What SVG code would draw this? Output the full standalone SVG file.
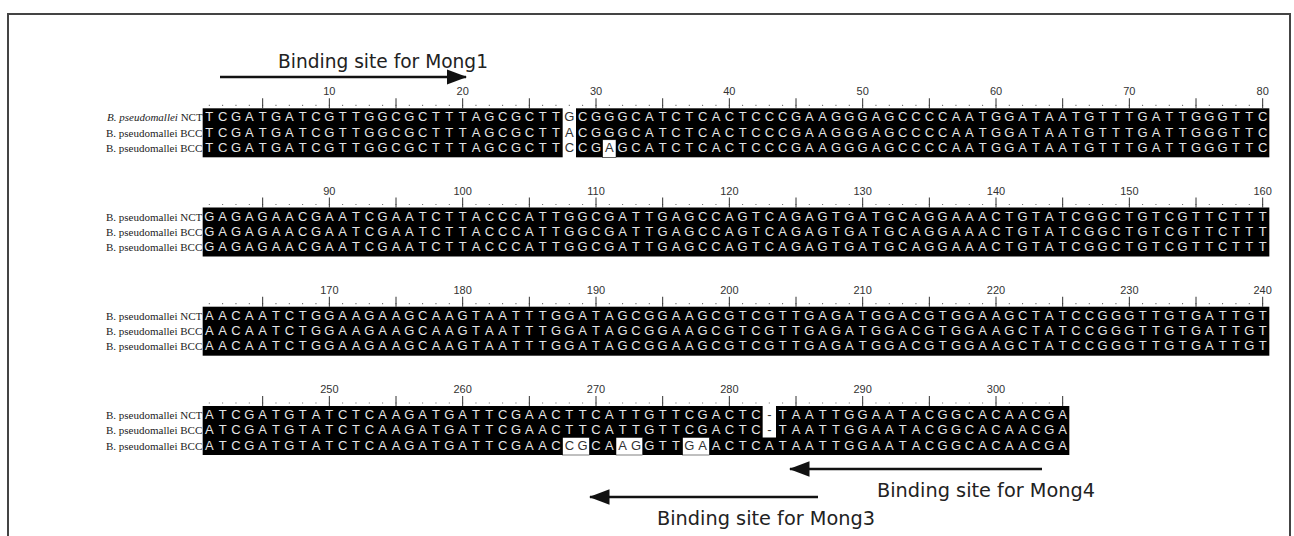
<svg xmlns="http://www.w3.org/2000/svg" width="1294" height="536" viewBox="0 0 1294 536">
<style>
.seq{font-family:"Liberation Sans",Arial,sans-serif;font-size:13px;fill:#e6e6e6;text-anchor:middle}
.d{fill:#333}
.lab{font-family:"Liberation Serif","Times New Roman",serif;font-size:11px;fill:#222}
.num{font-family:"Liberation Sans",Arial,sans-serif;font-size:11px;fill:#333;text-anchor:middle}
.dots{stroke:#666;stroke-width:1.2;stroke-dasharray:1 12.333}
.ticks{stroke:#333;stroke-width:10;stroke-dasharray:1 65.667}
.bind{font-family:"DejaVu Sans",Verdana,sans-serif;font-size:20px;fill:#222}
.arr{stroke:#111;stroke-width:2.6;fill:none}
</style>
<defs>
<marker id="ah" markerWidth="8" markerHeight="6" refX="7.5" refY="3" orient="auto" markerUnits="strokeWidth">
<path d="M0,0 L8,3 L0,6 Z" fill="#111"/>
</marker>
</defs>
<rect width="1294" height="536" fill="#fff"/>
<path d="M8,536 V14 H1290 V536" fill="none" stroke="#444" stroke-width="2"/>

<!-- Block 1 -->
<g id="block1" transform="translate(0,108.3)">
<text class="num" y="-13"><tspan x="329.33">10</tspan><tspan x="462.67">20</tspan><tspan x="596">30</tspan><tspan x="729.33">40</tspan><tspan x="862.67">50</tspan><tspan x="996">60</tspan><tspan x="1129.33">70</tspan><tspan x="1262.67">80</tspan></text>
<line class="dots" x1="208.8" y1="-3" x2="1264" y2="-3"/>
<line class="ticks" x1="262.17" y1="-5" x2="1264" y2="-5"/>
<text class="lab" x="107" y="13"><tspan font-style="italic">B. pseudomallei</tspan> NCT</text>
<text class="lab" x="106" y="28.3">B. pseudomallei BCC</text>
<text class="lab" x="106" y="43.6">B. pseudomallei BCC</text>
<rect x="202.67" y="0" width="360" height="49" fill="#000"/>
<rect x="576" y="0" width="693.33" height="49" fill="#000"/>
<rect x="602.67" y="31.5" width="13.33" height="17.5" fill="#fff" stroke="#000" stroke-width="0.5"/>
<g transform="translate(202.67,0)">
<text class="seq" y="13.2" x="6.67 20 33.33 46.67 60 73.33 86.67 100 113.33 126.67 140 153.33 166.67 180 193.33 206.67 220 233.33 246.67 260 273.33 286.67 300 313.33 326.67 340 353.33 366.67 380 393.33 406.67 420 433.33 446.67 460 473.33 486.67 500 513.33 526.67 540 553.33 566.67 580 593.33 606.67 620 633.33 646.67 660 673.33 686.67 700 713.33 726.67 740 753.33 766.67 780 793.33 806.67 820 833.33 846.67 860 873.33 886.67 900 913.33 926.67 940 953.33 966.67 980 993.33 1006.67 1020 1033.33 1046.67 1060">TCGATGATCGTTGGCGCTTTAGCGCTT<tspan class="d">G</tspan>CGGGCATCTCACTCCCGAAGGGAGCCCCAATGGATAATGTTTGATTGGGTTC</text>
<text class="seq" y="28.4" x="6.67 20 33.33 46.67 60 73.33 86.67 100 113.33 126.67 140 153.33 166.67 180 193.33 206.67 220 233.33 246.67 260 273.33 286.67 300 313.33 326.67 340 353.33 366.67 380 393.33 406.67 420 433.33 446.67 460 473.33 486.67 500 513.33 526.67 540 553.33 566.67 580 593.33 606.67 620 633.33 646.67 660 673.33 686.67 700 713.33 726.67 740 753.33 766.67 780 793.33 806.67 820 833.33 846.67 860 873.33 886.67 900 913.33 926.67 940 953.33 966.67 980 993.33 1006.67 1020 1033.33 1046.67 1060">TCGATGATCGTTGGCGCTTTAGCGCTT<tspan class="d">A</tspan>CGGGCATCTCACTCCCGAAGGGAGCCCCAATGGATAATGTTTGATTGGGTTC</text>
<text class="seq" y="43.7" x="6.67 20 33.33 46.67 60 73.33 86.67 100 113.33 126.67 140 153.33 166.67 180 193.33 206.67 220 233.33 246.67 260 273.33 286.67 300 313.33 326.67 340 353.33 366.67 380 393.33 406.67 420 433.33 446.67 460 473.33 486.67 500 513.33 526.67 540 553.33 566.67 580 593.33 606.67 620 633.33 646.67 660 673.33 686.67 700 713.33 726.67 740 753.33 766.67 780 793.33 806.67 820 833.33 846.67 860 873.33 886.67 900 913.33 926.67 940 953.33 966.67 980 993.33 1006.67 1020 1033.33 1046.67 1060">TCGATGATCGTTGGCGCTTTAGCGCTT<tspan class="d">C</tspan>CG<tspan class="d">A</tspan>GCATCTCACTCCCGAAGGGAGCCCCAATGGATAATGTTTGATTGGGTTC</text>
</g>
</g>

<!-- Block 2 -->
<g id="block2" transform="translate(0,207.5)">
<text class="num" y="-13"><tspan x="329.33">90</tspan><tspan x="462.67">100</tspan><tspan x="596">110</tspan><tspan x="729.33">120</tspan><tspan x="862.67">130</tspan><tspan x="996">140</tspan><tspan x="1129.33">150</tspan><tspan x="1262.67">160</tspan></text>
<line class="dots" x1="208.8" y1="-3" x2="1264" y2="-3"/>
<line class="ticks" x1="262.17" y1="-5" x2="1264" y2="-5"/>
<text class="lab" x="106" y="13">B. pseudomallei NCT</text>
<text class="lab" x="106" y="28.3">B. pseudomallei BCC</text>
<text class="lab" x="106" y="43.6">B. pseudomallei BCC</text>
<rect x="202.67" y="0" width="1066.67" height="49" fill="#000"/>
<g transform="translate(202.67,0)">
<text class="seq" y="13.2" x="6.67 20 33.33 46.67 60 73.33 86.67 100 113.33 126.67 140 153.33 166.67 180 193.33 206.67 220 233.33 246.67 260 273.33 286.67 300 313.33 326.67 340 353.33 366.67 380 393.33 406.67 420 433.33 446.67 460 473.33 486.67 500 513.33 526.67 540 553.33 566.67 580 593.33 606.67 620 633.33 646.67 660 673.33 686.67 700 713.33 726.67 740 753.33 766.67 780 793.33 806.67 820 833.33 846.67 860 873.33 886.67 900 913.33 926.67 940 953.33 966.67 980 993.33 1006.67 1020 1033.33 1046.67 1060">GAGAGAACGAATCGAATCTTACCCATTGGCGATTGAGCCAGTCAGAGTGATGCAGGAAACTGTATCGGCTGTCGTTCTTT</text>
<text class="seq" y="28.4" x="6.67 20 33.33 46.67 60 73.33 86.67 100 113.33 126.67 140 153.33 166.67 180 193.33 206.67 220 233.33 246.67 260 273.33 286.67 300 313.33 326.67 340 353.33 366.67 380 393.33 406.67 420 433.33 446.67 460 473.33 486.67 500 513.33 526.67 540 553.33 566.67 580 593.33 606.67 620 633.33 646.67 660 673.33 686.67 700 713.33 726.67 740 753.33 766.67 780 793.33 806.67 820 833.33 846.67 860 873.33 886.67 900 913.33 926.67 940 953.33 966.67 980 993.33 1006.67 1020 1033.33 1046.67 1060">GAGAGAACGAATCGAATCTTACCCATTGGCGATTGAGCCAGTCAGAGTGATGCAGGAAACTGTATCGGCTGTCGTTCTTT</text>
<text class="seq" y="43.7" x="6.67 20 33.33 46.67 60 73.33 86.67 100 113.33 126.67 140 153.33 166.67 180 193.33 206.67 220 233.33 246.67 260 273.33 286.67 300 313.33 326.67 340 353.33 366.67 380 393.33 406.67 420 433.33 446.67 460 473.33 486.67 500 513.33 526.67 540 553.33 566.67 580 593.33 606.67 620 633.33 646.67 660 673.33 686.67 700 713.33 726.67 740 753.33 766.67 780 793.33 806.67 820 833.33 846.67 860 873.33 886.67 900 913.33 926.67 940 953.33 966.67 980 993.33 1006.67 1020 1033.33 1046.67 1060">GAGAGAACGAATCGAATCTTACCCATTGGCGATTGAGCCAGTCAGAGTGATGCAGGAAACTGTATCGGCTGTCGTTCTTT</text>
</g>
</g>

<!-- Block 3 -->
<g id="block3" transform="translate(0,306.7)">
<text class="num" y="-13"><tspan x="329.33">170</tspan><tspan x="462.67">180</tspan><tspan x="596">190</tspan><tspan x="729.33">200</tspan><tspan x="862.67">210</tspan><tspan x="996">220</tspan><tspan x="1129.33">230</tspan><tspan x="1262.67">240</tspan></text>
<line class="dots" x1="208.8" y1="-3" x2="1264" y2="-3"/>
<line class="ticks" x1="262.17" y1="-5" x2="1264" y2="-5"/>
<text class="lab" x="106" y="13">B. pseudomallei NCT</text>
<text class="lab" x="106" y="28.3">B. pseudomallei BCC</text>
<text class="lab" x="106" y="43.6">B. pseudomallei BCC</text>
<rect x="202.67" y="0" width="1066.67" height="49" fill="#000"/>
<g transform="translate(202.67,0)">
<text class="seq" y="13.2" x="6.67 20 33.33 46.67 60 73.33 86.67 100 113.33 126.67 140 153.33 166.67 180 193.33 206.67 220 233.33 246.67 260 273.33 286.67 300 313.33 326.67 340 353.33 366.67 380 393.33 406.67 420 433.33 446.67 460 473.33 486.67 500 513.33 526.67 540 553.33 566.67 580 593.33 606.67 620 633.33 646.67 660 673.33 686.67 700 713.33 726.67 740 753.33 766.67 780 793.33 806.67 820 833.33 846.67 860 873.33 886.67 900 913.33 926.67 940 953.33 966.67 980 993.33 1006.67 1020 1033.33 1046.67 1060">AACAATCTGGAAGAAGCAAGTAATTTGGATAGCGGAAGCGTCGTTGAGATGGACGTGGAAGCTATCCGGGTTGTGATTGT</text>
<text class="seq" y="28.4" x="6.67 20 33.33 46.67 60 73.33 86.67 100 113.33 126.67 140 153.33 166.67 180 193.33 206.67 220 233.33 246.67 260 273.33 286.67 300 313.33 326.67 340 353.33 366.67 380 393.33 406.67 420 433.33 446.67 460 473.33 486.67 500 513.33 526.67 540 553.33 566.67 580 593.33 606.67 620 633.33 646.67 660 673.33 686.67 700 713.33 726.67 740 753.33 766.67 780 793.33 806.67 820 833.33 846.67 860 873.33 886.67 900 913.33 926.67 940 953.33 966.67 980 993.33 1006.67 1020 1033.33 1046.67 1060">AACAATCTGGAAGAAGCAAGTAATTTGGATAGCGGAAGCGTCGTTGAGATGGACGTGGAAGCTATCCGGGTTGTGATTGT</text>
<text class="seq" y="43.7" x="6.67 20 33.33 46.67 60 73.33 86.67 100 113.33 126.67 140 153.33 166.67 180 193.33 206.67 220 233.33 246.67 260 273.33 286.67 300 313.33 326.67 340 353.33 366.67 380 393.33 406.67 420 433.33 446.67 460 473.33 486.67 500 513.33 526.67 540 553.33 566.67 580 593.33 606.67 620 633.33 646.67 660 673.33 686.67 700 713.33 726.67 740 753.33 766.67 780 793.33 806.67 820 833.33 846.67 860 873.33 886.67 900 913.33 926.67 940 953.33 966.67 980 993.33 1006.67 1020 1033.33 1046.67 1060">AACAATCTGGAAGAAGCAAGTAATTTGGATAGCGGAAGCGTCGTTGAGATGGACGTGGAAGCTATCCGGGTTGTGATTGT</text>
</g>
</g>

<!-- Block 4 -->
<g id="block4" transform="translate(0,406)">
<text class="num" y="-13"><tspan x="329.33">250</tspan><tspan x="462.67">260</tspan><tspan x="596">270</tspan><tspan x="729.33">280</tspan><tspan x="862.67">290</tspan><tspan x="996">300</tspan></text>
<line class="dots" x1="208.8" y1="-3" x2="1064" y2="-3"/>
<line class="ticks" x1="262.17" y1="-5" x2="1064" y2="-5"/>
<text class="lab" x="106" y="13">B. pseudomallei NCT</text>
<text class="lab" x="106" y="28.3">B. pseudomallei BCC</text>
<text class="lab" x="106" y="43.6">B. pseudomallei BCC</text>
<rect x="202.67" y="0" width="866.67" height="49" fill="#000"/>
<rect x="762.67" y="0" width="13.33" height="31.5" fill="#fff"/>
<rect x="562.67" y="31.5" width="26.67" height="17.5" fill="#fff" stroke="#000" stroke-width="0.5"/>
<rect x="616" y="31.5" width="26.67" height="17.5" fill="#fff" stroke="#000" stroke-width="0.5"/>
<rect x="682.67" y="31.5" width="26.67" height="17.5" fill="#fff" stroke="#000" stroke-width="0.5"/>
<g transform="translate(202.67,0)">
<text class="seq" y="13.2" x="6.67 20 33.33 46.67 60 73.33 86.67 100 113.33 126.67 140 153.33 166.67 180 193.33 206.67 220 233.33 246.67 260 273.33 286.67 300 313.33 326.67 340 353.33 366.67 380 393.33 406.67 420 433.33 446.67 460 473.33 486.67 500 513.33 526.67 540 553.33 566.67 580 593.33 606.67 620 633.33 646.67 660 673.33 686.67 700 713.33 726.67 740 753.33 766.67 780 793.33 806.67 820 833.33 846.67 860">ATCGATGTATCTCAAGATGATTCGAACTTCATTGTTCGACTC<tspan class="d">-</tspan>TAATTGGAATACGGCACAACGA</text>
<text class="seq" y="28.4" x="6.67 20 33.33 46.67 60 73.33 86.67 100 113.33 126.67 140 153.33 166.67 180 193.33 206.67 220 233.33 246.67 260 273.33 286.67 300 313.33 326.67 340 353.33 366.67 380 393.33 406.67 420 433.33 446.67 460 473.33 486.67 500 513.33 526.67 540 553.33 566.67 580 593.33 606.67 620 633.33 646.67 660 673.33 686.67 700 713.33 726.67 740 753.33 766.67 780 793.33 806.67 820 833.33 846.67 860">ATCGATGTATCTCAAGATGATTCGAACTTCATTGTTCGACTC<tspan class="d">-</tspan>TAATTGGAATACGGCACAACGA</text>
<text class="seq" y="43.7" x="6.67 20 33.33 46.67 60 73.33 86.67 100 113.33 126.67 140 153.33 166.67 180 193.33 206.67 220 233.33 246.67 260 273.33 286.67 300 313.33 326.67 340 353.33 366.67 380 393.33 406.67 420 433.33 446.67 460 473.33 486.67 500 513.33 526.67 540 553.33 566.67 580 593.33 606.67 620 633.33 646.67 660 673.33 686.67 700 713.33 726.67 740 753.33 766.67 780 793.33 806.67 820 833.33 846.67 860">ATCGATGTATCTCAAGATGATTCGAAC<tspan class="d">CG</tspan>CA<tspan class="d">AG</tspan>GTT<tspan class="d">GA</tspan>ACTCATAATTGGAATACGGCACAACGA</text>
</g>
</g>

<!-- Binding site arrows -->
<g id="connectors">
<line class="arr" x1="220" y1="77" x2="466" y2="77" marker-end="url(#ah)"/>
<line class="arr" x1="1042" y1="469" x2="790" y2="469" marker-end="url(#ah)"/>
<line class="arr" x1="818" y1="497" x2="590" y2="497" marker-end="url(#ah)"/>
</g>
<g id="label-mong1"><text class="bind" x="278" y="68" textLength="210" lengthAdjust="spacingAndGlyphs">Binding site for Mong1</text></g>
<g id="label-mong4"><text class="bind" x="877" y="497" textLength="218" lengthAdjust="spacingAndGlyphs">Binding site for Mong4</text></g>
<g id="label-mong3"><text class="bind" x="657" y="525" textLength="218" lengthAdjust="spacingAndGlyphs">Binding site for Mong3</text></g>
</svg>
